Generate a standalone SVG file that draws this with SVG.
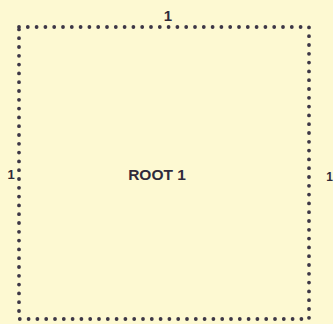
<svg xmlns="http://www.w3.org/2000/svg" width="333" height="324" viewBox="0 0 333 324">
<style>
.bg{fill:#fdf9d2}
.frame{fill:none;stroke:#3d3746;stroke-width:3.8;stroke-linecap:round;stroke-dasharray:0 8.8}
.lbl{font-family:"Liberation Sans",Arial,sans-serif;font-weight:bold;fill:#2f2a3a}
</style>
<rect class="bg" x="0" y="0" width="333" height="324"/>
<g id="connectors"></g>
<g id="root1">
<rect class="frame" x="19" y="27" width="290" height="292"/>
<text class="lbl" x="157" y="180" font-size="15.5" text-anchor="middle">ROOT 1</text>
</g>
<g id="labels">
<text class="lbl" x="168" y="21" font-size="15" text-anchor="middle">1</text>
<text class="lbl" x="11" y="179" font-size="13" text-anchor="middle">1</text>
<text class="lbl" x="333" y="181" font-size="12" text-anchor="end">1</text>
</g>
</svg>
